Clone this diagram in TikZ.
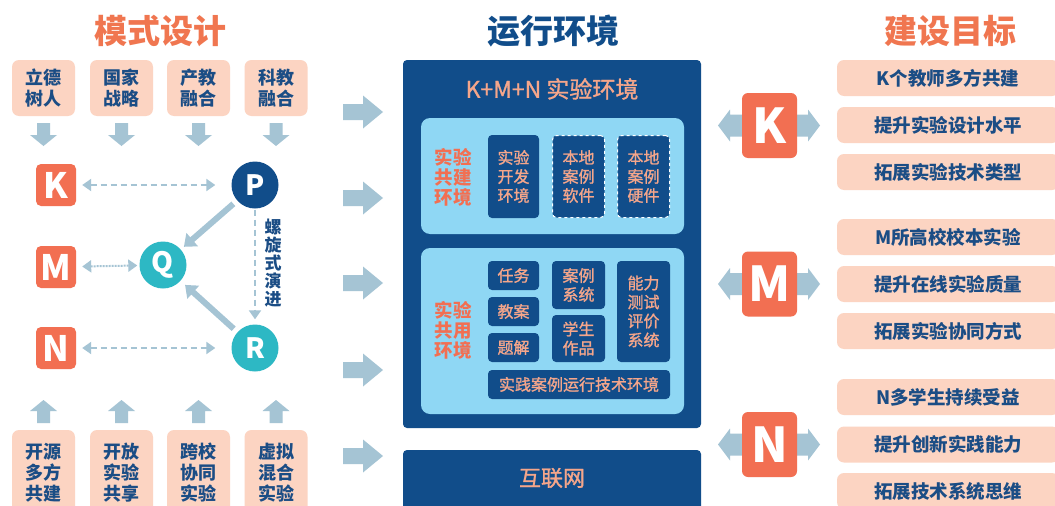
\documentclass[tikz,border=0pt]{standalone}
\usepackage{fontspec}
\setmainfont{Noto Sans CJK SC}
\newfontfamily\medf{Noto Sans CJK SC}[FakeBold=1.2]
\usetikzlibrary{arrows.meta}
\definecolor{orc}{HTML}{F26F52}
\definecolor{titor}{HTML}{F07650}
\definecolor{peachc}{HTML}{FCD4C2}
\definecolor{navy}{HTML}{114D8A}
\definecolor{navyt}{HTML}{1B4D85}
\definecolor{lblue}{HTML}{8FD7F4}
\definecolor{tealc}{HTML}{2DB8C4}
\definecolor{arrc}{HTML}{A5C4D4}
\definecolor{salm}{HTML}{F5A68A}
\tikzset{
  fs/.style n args={2}{font=#1\fontsize{#2}{#2}\selectfont},
  pbox/.style={fill=peachc, rounded corners=7pt, inner sep=0pt, text=navyt, align=center,
     font=\bfseries\fontsize{18}{21}\selectfont, minimum width=63pt},
  ltile/.style={fill=orc, rounded corners=5pt, inner sep=0pt, minimum width=40pt, minimum height=42pt,
     text=white, font=\bfseries\fontsize{35}{35}\selectfont},
  rtile/.style={fill=orc, rounded corners=6pt, inner sep=0pt, minimum width=55pt, minimum height=65pt,
     text=white, font=\bfseries\fontsize{48}{48}\selectfont},
  circ/.style={circle, inner sep=0pt, minimum size=47pt, text=white, font=\bfseries\fontsize{28}{28}\selectfont},
  dbox/.style={fill=navy, rounded corners=4pt, inner sep=0pt, text=salm, align=center,
     font=\medf\fontsize{16}{19}\selectfont},
  lbox/.style={fill=lblue, rounded corners=9pt, inner sep=0pt, minimum width=263pt},
  olab/.style={text=orc, align=center, font=\bfseries\fontsize{18.5}{20}\selectfont},
  rbox/.style={fill=peachc, rounded corners=7pt, inner sep=0pt, minimum width=222pt, minimum height=36pt,
     text=navyt, font=\bfseries\fontsize{18.5}{18.5}\selectfont},
  conn/.style={draw=arrc, line width=2pt, {Triangle[length=9pt,width=12pt]}-{Triangle[length=9pt,width=12pt]}},
  thick arr/.style={draw=arrc, line width=6pt, -{Triangle[length=11pt,width=17pt]}},
  darr/.pic={\fill[arrc] (-6.5,0) -- (6.5,0) -- (6.5,12) -- (13.5,12) -- (0,23) -- (-13.5,12) -- (-6.5,12) -- cycle;},
  uarr/.pic={\fill[arrc] (-6.5,0) -- (6.5,0) -- (6.5,-12) -- (13.5,-12) -- (0,-23) -- (-13.5,-12) -- (-6.5,-12) -- cycle;},
  rarr/.pic={\fill[arrc] (0,-8) -- (20,-8) -- (20,-16.5) -- (40,0) -- (20,16.5) -- (20,8) -- (0,8) -- cycle;},
  dblarr/.pic={\fill[arrc] (-51,0) -- (-39,-16) -- (-39,-11) -- (39,-11) -- (39,-16) -- (51,0) -- (39,16) -- (39,11) -- (-39,11) -- (-39,16) -- cycle;}
}
\begin{document}
\begin{tikzpicture}[x=1pt,y=-1pt]
\clip (0,0) rectangle (1055,506);
\fill[white] (0,0) rectangle (1055,506);

% titles
\node[text=titor, fs={\bfseries}{33}] (t1) at (160,31) {模式设计};
\node[text=navy, fs={\bfseries}{33}] (t2) at (553,31) {运行环境};
\node[text=titor, fs={\bfseries}{33}] (t3) at (950,31) {建设目标};

% top boxes
\node[pbox, minimum height=56pt] (a1) at (43.5,88) {立德\\树人};
\node[pbox, minimum height=56pt] (a2) at (121.5,88) {国家\\战略};
\node[pbox, minimum height=56pt] (a3) at (198.5,88) {产教\\融合};
\node[pbox, minimum height=56pt] (a4) at (276,88) {科教\\融合};
\foreach \x in {43.5,121.5,198.5,276} {\pic at (\x,123) {darr};}

% bottom boxes
\node[pbox, minimum height=86pt] (b1) at (43.5,473) {开源\\多方\\共建};
\node[pbox, minimum height=86pt] (b2) at (121.5,473) {开放\\实验\\共享};
\node[pbox, minimum height=86pt] (b3) at (198.5,473) {跨校\\协同\\实验};
\node[pbox, minimum height=86pt] (b4) at (276,473) {虚拟\\混合\\实验};
\foreach \x in {43.5,121.5,198.5,276} {\pic at (\x,423) {uarr};}

% K M N P Q R
\node[ltile] (K) at (56,185) {K};
\node[ltile] (M) at (56,267) {M};
\node[ltile] (N) at (56,348) {N};
\node[circ, fill=navy] (P) at (255,185) {P};
\node[circ, fill=tealc] (Q) at (163,265) {Q};
\node[circ, fill=tealc] (R) at (255,348) {R};

\draw[conn, dash pattern=on 6pt off 4pt, shorten <=6pt, shorten >=16pt] (K) -- (P);
\draw[conn, dash pattern=on 2pt off 1pt, shorten <=6pt, shorten >=2pt] (M) -- (Q);
\draw[conn, dash pattern=on 6pt off 4pt, shorten <=6pt, shorten >=16pt] (N) -- (R);
\draw[draw=arrc, line width=2pt, dash pattern=on 6pt off 4pt, -{Triangle[length=9pt,width=12pt]}, shorten <=1pt, shorten >=5pt] (P) -- (R);
\draw[thick arr, shorten <=5pt, shorten >=4pt] (P) -- (Q);
\draw[thick arr, shorten <=5pt, shorten >=6pt] (R) -- (Q);
\node[text=navyt, align=center, font=\bfseries\fontsize{17}{18}\selectfont] (spiral) at (273,263) {螺\\旋\\式\\演\\进};

% middle arrows
\foreach \y in {112,198,283,370,456} {\pic at (343,\y) {rarr};}

% environment
\node[fill=navy, rounded corners=4pt, minimum width=298pt, minimum height=368pt, inner sep=0pt] (env) at (552,244) {};
\node[text=salm, font=\medf\fontsize{23}{23}\selectfont] (envt) at (552,89) {K+M+N 实验环境};
\node[lbox, minimum height=116pt] (L1) at (552.5,176) {};
\node[lbox, minimum height=166pt] (L2) at (552.5,331) {};
\node[olab] (l1t) at (453,177) {实验\\共建\\环境};
\node[olab] (l2t) at (453,330) {实验\\共用\\环境};
\node[dbox, minimum width=51pt, minimum height=83pt] (c1) at (513.5,176.5) {实验\\开发\\环境};
\node[dbox, draw=white, dashed, line width=1pt, minimum width=52pt, minimum height=82pt] (c2) at (578.5,176.5) {本地\\案例\\软件};
\node[dbox, draw=white, dashed, line width=1pt, minimum width=52pt, minimum height=82pt] (c3) at (643.5,176.5) {本地\\案例\\硬件};
\node[dbox, minimum width=51pt, minimum height=29pt] (d1) at (513.5,275.5) {任务};
\node[dbox, minimum width=51pt, minimum height=29pt] (d2) at (513.5,311.5) {教案};
\node[dbox, minimum width=51pt, minimum height=29pt] (d3) at (513.5,347.5) {题解};
\node[dbox, minimum width=53pt, minimum height=48pt] (d4) at (578.5,285) {案例\\系统};
\node[dbox, minimum width=53pt, minimum height=47pt] (d5) at (578.5,338.5) {学生\\作品};
\node[dbox, minimum width=53pt, minimum height=101pt] (d6) at (643.5,311.5) {能力\\测试\\评价\\系统};
\node[dbox, minimum width=182pt, minimum height=29pt] (d7) at (579,384.5) {实践案例运行技术环境};
\node[fill=navy, rounded corners=4pt, minimum width=298pt, minimum height=70pt, inner sep=0pt] (net) at (552,485) {};
\node[text=salm, font=\medf\fontsize{22}{22}\selectfont] (nett) at (552,478) {互联网};

% right side
\foreach \y in {125.5,284,444.5} {\pic at (769,\y) {dblarr};}
\node[rtile] (K2) at (769.5,125.5) {K};
\node[rtile] (M2) at (769.5,284) {M};
\node[rtile] (N2) at (769.5,444.5) {N};
\node[rbox] (r1) at (948,78) {K个教师多方共建};
\node[rbox] (r2) at (948,125) {提升实验设计水平};
\node[rbox] (r3) at (948,172) {拓展实验技术类型};
\node[rbox] (r4) at (948,237) {M所高校校本实验};
\node[rbox] (r5) at (948,284) {提升在线实验质量};
\node[rbox] (r6) at (948,331) {拓展实验协同方式};
\node[rbox] (r7) at (948,397) {N多学生持续受益};
\node[rbox] (r8) at (948,444.5) {提升创新实践能力};
\node[rbox] (r9) at (948,491) {拓展技术系统思维};
\end{tikzpicture}
\end{document}
